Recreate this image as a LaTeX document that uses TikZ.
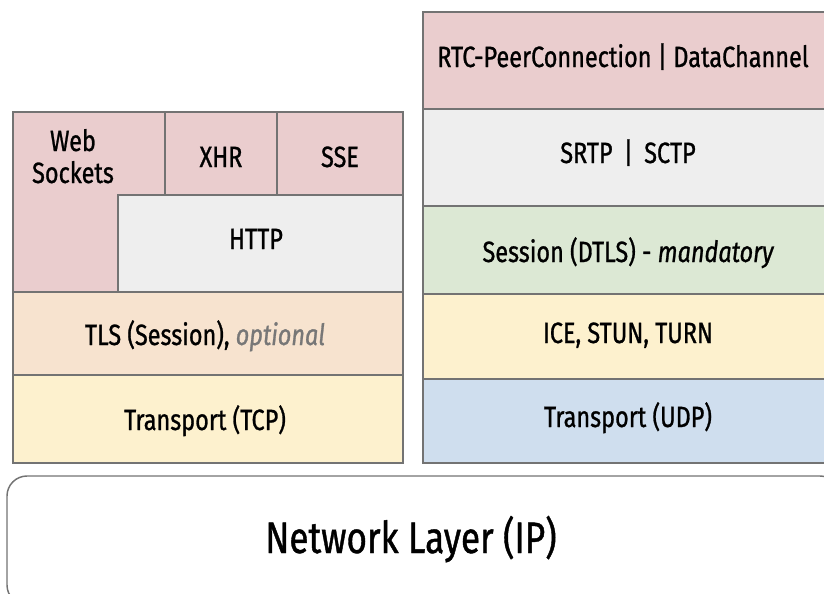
\documentclass[tikz,border=0pt]{standalone}
\usepackage{fontspec}
\setmainfont{Fira Sans}[FakeStretch=0.8, FakeBold=0.9]
\definecolor{pinkL}{HTML}{EACDCE}
\definecolor{greyL}{HTML}{EEEEEE}
\definecolor{greenL}{HTML}{DCE8D4}
\definecolor{peachL}{HTML}{F7E3CF}
\definecolor{yellowL}{HTML}{FDF1CE}
\definecolor{blueL}{HTML}{CFDEEE}
\definecolor{edge}{HTML}{737373}
\definecolor{muted}{HTML}{777777}
\tikzset{
  layer/.style={draw=edge, line width=1.1pt},
  lbl/.style={anchor=base, inner sep=0pt, font=\fontsize{22}{26}\selectfont, text=black},
  biglbl/.style={anchor=base, inner sep=0pt, font=\fontsize{33}{38}\selectfont, text=black}
}
\begin{document}
\begin{tikzpicture}[x=0.75pt, y=-0.75pt]
\useasboundingbox (0,0) rectangle (824,593);

% --- TCP stack ---
\draw[layer, fill=pinkL] (13,112) -- (165,112) -- (165,195) -- (118,195) -- (118,292) -- (13,292) -- cycle;
\draw[layer, fill=pinkL] (165,112) rectangle (277,195);
\draw[layer, fill=pinkL] (277,112) rectangle (403,195);
\draw[layer, fill=greyL] (118,195) rectangle (403,292);
\draw[layer, fill=peachL] (13,292) rectangle (403,375);
\draw[layer, fill=yellowL] (13,375) rectangle (403,463);

\node[lbl] (ws1) at (73,151) {Web};
\node[lbl] (ws2) at (73,183) {Sockets};
\node[lbl] (xhr) at (221,167) {XHR};
\node[lbl] (sse) at (340,167) {SSE};
\node[lbl] (http) at (256,249) {HTTP};
\node[lbl] (tls) at (205,345) {TLS (Session), \textcolor{muted}{\itshape optional}};
\node[lbl] (tcp) at (205,430) {Transport (TCP)};

% --- UDP stack ---
\draw[layer, fill=pinkL] (423,12) rectangle (830,109);
\draw[layer, fill=greyL] (423,109) rectangle (830,206);
\draw[layer, fill=greenL] (423,206) rectangle (830,294);
\draw[layer, fill=yellowL] (423,294) rectangle (830,379);
\draw[layer, fill=blueL] (423,379) rectangle (830,463);

\node[lbl] (rtc) at (623,67) {RTC-PeerConnection | DataChannel};
\node[lbl] (srtp) at (628,163) {SRTP \,|\, SCTP};
\node[lbl] (dtls) at (628,262) {Session (DTLS) - \itshape mandatory};
\node[lbl] (ice) at (628,343) {ICE, STUN, TURN};
\node[lbl] (udp) at (628,427) {Transport (UDP)};

% --- network layer ---
\draw[layer, fill=white, rounded corners=15pt] (7,476) rectangle (840,605);
\node[biglbl] (ip) at (411,553) {Network Layer (IP)};
\end{tikzpicture}
\end{document}
